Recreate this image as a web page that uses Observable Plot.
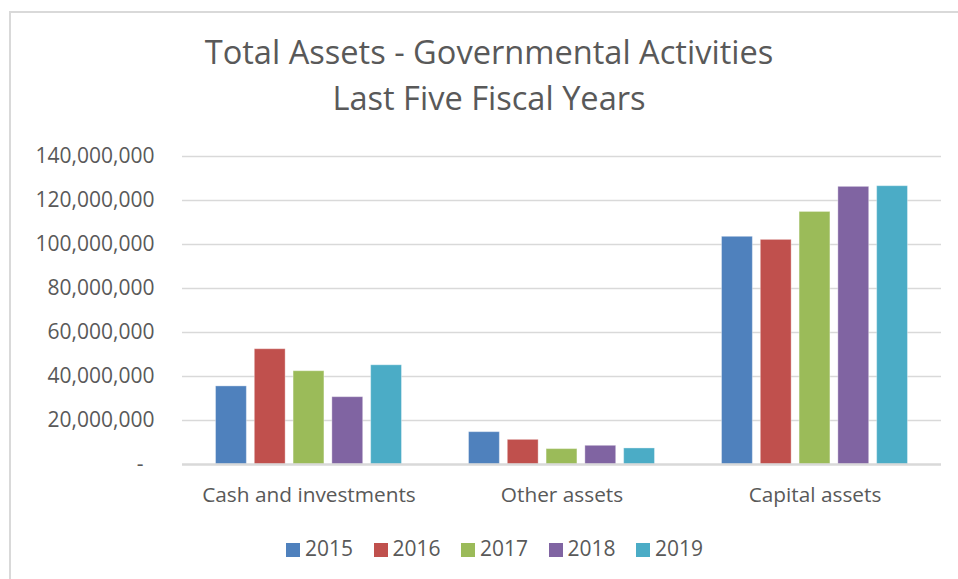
<!DOCTYPE html>
<html>
<head>
<meta charset="utf-8">
<script src="https://cdn.jsdelivr.net/npm/d3@7"></script>
<script src="https://cdn.jsdelivr.net/npm/@observablehq/plot@0.6"></script>
<style>
  html, body { margin: 0; padding: 0; background: #fff; overflow: hidden; }
  body { width: 958px; height: 579px; position: relative; font-family: "Open Sans", sans-serif; color: #595959; }
  #frame { position: absolute; left: 9px; top: 11px; width: 1000px; height: 600px; border-left: 2px solid #d9d9d9; border-top: 2px solid #d9d9d9; }
  .title { position: absolute; left: 0; width: 978px; text-align: center; font-size: 32.6px; line-height: 32.6px; white-space: nowrap; }
  #chart { position: absolute; left: 0; top: 0; }
  #legend { position: absolute; left: 286px; top: 538px; display: flex; }
  .item { width: 87.5px; display: flex; align-items: flex-start; font-size: 21px; line-height: 21px; white-space: nowrap; }
  .sw { width: 14px; height: 14px; margin-top: 5px; margin-right: 5px; flex: none; }
</style>
</head>
<body>
<div id="frame"></div>
<div id="chart"></div>
<div class="title" id="t1" style="top:36px"></div>
<div class="title" id="t2" style="top:82px"></div>
<div id="legend"></div>
<script>
const titleLines = ["Total Assets - Governmental Activities", "Last Five Fiscal Years"];
const categories = ["Cash and investments", "Other assets", "Capital assets"];
const years = ["2015", "2016", "2017", "2018", "2019"];
const values2015 = [35500000, 14700000, 103500000];
const values2016 = [52400000, 11200000, 102100000];
const values2017 = [42400000, 7000000, 114800000];
const values2018 = [30600000, 8500000, 126200000];
const values2019 = [45100000, 7300000, 126500000];
const colors = ["#4f81bd", "#c0504d", "#9bbb59", "#8064a2", "#4bacc6"];
const yTicks = [0, 20000000, 40000000, 60000000, 80000000, 100000000, 120000000, 140000000];

const series = [values2015, values2016, values2017, values2018, values2019];
const data = [];
categories.forEach((c, i) => {
  years.forEach((y, j) => data.push({category: c, year: y, value: series[j][i]}));
});

document.getElementById("t1").textContent = titleLines[0];
document.getElementById("t2").textContent = titleLines[1];

const fxPadInner = 0.265;
const fxPadOuter = fxPadInner / 2;
const plotWidth = 958, mL = 182, mR = 17;
const step = (plotWidth - mL - mR) / categories.length;
const gapHalf = step * fxPadInner / 2;
const ext = -gapHalf;

const fmt = d3.format(",");
const chart = Plot.plot({
  width: plotWidth,
  height: 520,
  marginLeft: mL,
  marginRight: mR,
  marginTop: 156,
  marginBottom: 56,
  style: {fontFamily: "Open Sans, sans-serif", color: "#595959", background: "transparent"},
  fx: {domain: categories, paddingInner: fxPadInner, paddingOuter: fxPadOuter, round: false, label: null},
  x: {domain: years, paddingInner: 0.205, paddingOuter: 0, round: false, axis: null},
  y: {domain: [0, 140000000], label: null},
  color: {domain: years, range: colors},
  marks: [
    Plot.ruleY(yTicks.filter(d => d > 0), {stroke: "#d9d9d9", strokeWidth: 1.5, insetLeft: ext, insetRight: ext}),
    Plot.barY(data, {fx: "category", x: "year", y: "value", fill: "year", stroke: "#ffffff", strokeOpacity: 0.35, strokeWidth: 1}),
    Plot.ruleY([0], {stroke: "#d9d9d9", strokeWidth: 2.5, insetLeft: ext, insetRight: ext}),
    Plot.axisY({ticks: yTicks, tickSize: 0, tickPadding: 28 + gapHalf, fontSize: 21, label: null,
      tickFormat: d => d === 0 ? "-\u00a0\u00a0" : fmt(d)}),
    Plot.axisFx({anchor: "bottom", tickSize: 0, tickPadding: 23, fontSize: 20.8, label: null})
  ]
});
document.getElementById("chart").appendChild(chart);

const legend = document.getElementById("legend");
years.forEach((y, j) => {
  const item = document.createElement("div");
  item.className = "item";
  const sw = document.createElement("div");
  sw.className = "sw";
  sw.style.background = colors[j];
  const lab = document.createElement("span");
  lab.textContent = y;
  item.appendChild(sw);
  item.appendChild(lab);
  legend.appendChild(item);
});
</script>
</body>
</html>
